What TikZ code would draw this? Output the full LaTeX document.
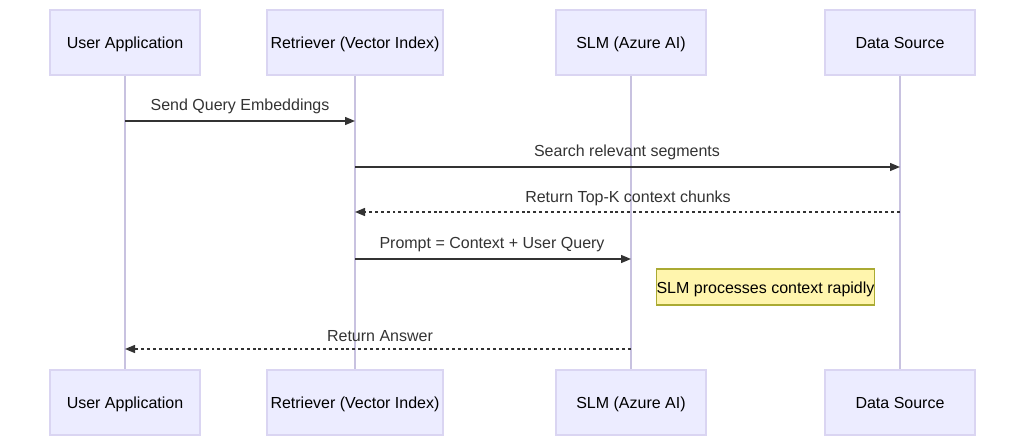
\documentclass[tikz,border=0pt]{standalone}
\usepackage{fontspec}
\setmainfont{Liberation Sans}
\usetikzlibrary{arrows.meta}
\definecolor{actfill}{HTML}{ECECFF}
\definecolor{actline}{HTML}{DAD5F2}
\definecolor{lifeln}{HTML}{C8C2E0}
\definecolor{txt}{HTML}{333333}
\definecolor{notefill}{HTML}{FFF5AD}
\definecolor{noteline}{HTML}{AAAA33}
\begin{document}
\begin{tikzpicture}[x=0.75pt,y=-0.75pt,
  actor/.style={draw=actline,fill=actfill,line width=1.2pt,minimum width=112.5pt,minimum height=48.75pt,inner sep=0pt,text height=10.1pt,text depth=1.1pt,font=\fontsize{12}{14}\selectfont,text=black},
  wide/.style={minimum width=132pt},
  life/.style={draw=lifeln,line width=1pt},
  msg/.style={draw=txt,line width=1pt,-{Triangle[length=7.5pt,width=6pt]}},
  rep/.style={msg,dash pattern=on 2.2pt off 2.2pt},
  lab/.style={font=\fontsize{12}{14}\selectfont,text=txt,anchor=base}]
\useasboundingbox (0,0) rectangle (1025,446);
\node[actor] (a1) at (125,42.5) {User Application};
\node[actor,wide] (a2) at (355,42.5) {Retriever (Vector Index)};
\node[actor] (a3) at (631,42.5) {SLM (Azure AI)};
\node[actor] (a4) at (900,42.5) {Data Source};
\node[actor] (b1) at (125,402.5) {User Application};
\node[actor,wide] (b2) at (355,402.5) {Retriever (Vector Index)};
\node[actor] (b3) at (631,402.5) {SLM (Azure AI)};
\node[actor] (b4) at (900,402.5) {Data Source};
\foreach \i in {1,2,3,4} \draw[life] (a\i.south) -- (b\i.north);
\coordinate (m1s) at (125,121); \coordinate (m1e) at (355,121);
\coordinate (m2s) at (355,167); \coordinate (m2e) at (900,167);
\coordinate (m3s) at (900,212); \coordinate (m3e) at (355,212);
\coordinate (m4s) at (355,259); \coordinate (m4e) at (631,259);
\coordinate (m5s) at (631,349); \coordinate (m5e) at (125,349);
\draw[msg] (m1s) -- (m1e);
\draw[msg] (m2s) -- (m2e);
\draw[rep] (m3s) -- (m3e);
\draw[msg] (m4s) -- (m4e);
\draw[rep] (m5s) -- (m5e);
\node[lab] (l1) at (240,110) {Send Query Embeddings};
\node[lab] (l2) at (627,156) {Search relevant segments};
\node[lab] (l3) at (628,202) {Return Top-K context chunks};
\node[lab] (l4) at (492,248) {Prompt = Context + User Query};
\node[lab] (l5) at (380,341) {Return Answer};
\node[draw=noteline,fill=notefill,line width=0.8pt,minimum width=164pt,minimum height=27pt,inner sep=0pt,text height=10.1pt,text depth=1.1pt,font=\fontsize{12}{14}\selectfont,text=black] (n) at (765.5,287) {SLM processes context rapidly};
\end{tikzpicture}
\end{document}
